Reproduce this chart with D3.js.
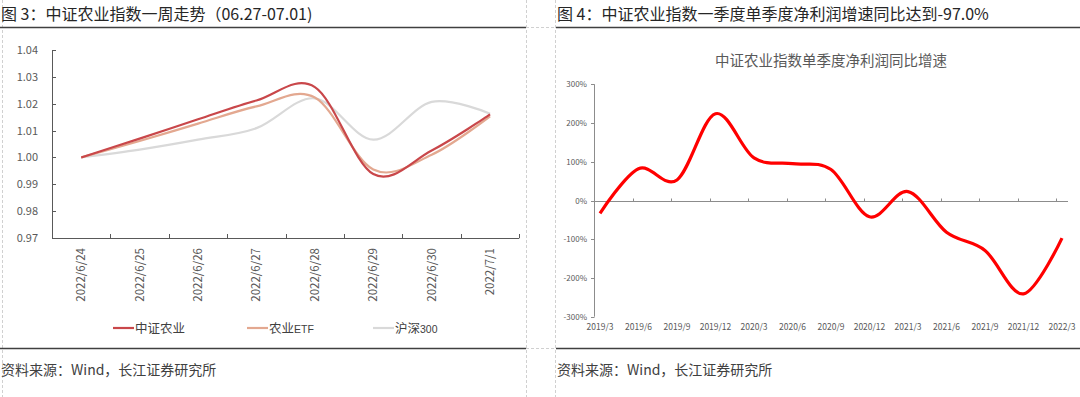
<!DOCTYPE html>
<html><head><meta charset="utf-8">
<script src="https://cdn.jsdelivr.net/npm/d3@7"></script>
<style>
html,body{margin:0;padding:0;background:#fff;}
svg{display:block;}
text{font-family:"Noto Sans CJK SC","Liberation Sans",sans-serif;}
</style></head>
<body>
<svg id="c" width="1080" height="397"></svg>
<script>
// ---------- data ----------
const leftCategories = ['2022/6/24','2022/6/25','2022/6/26','2022/6/27','2022/6/28','2022/6/29','2022/6/30','2022/7/1'];
const zzny  = [1.000, 1.0070, 1.0142, 1.0212, 1.0262, 0.9938, 1.0026, 1.0160];
const nyetf = [1.000, 1.0061, 1.0126, 1.0190, 1.0223, 0.9955, 1.0010, 1.0153];
const hs300 = [1.000, 1.0029, 1.0066, 1.0109, 1.0220, 1.0066, 1.0207, 1.0163];
const leftTicks = [0.97,0.98,0.99,1.00,1.01,1.02,1.03,1.04];
const leftSeriesNames = ['中证农业','农业ETF','沪深300'];

const quarters = ['2019/3','2019/6','2019/9','2019/12','2020/3','2020/6','2020/9','2020/12','2021/3','2021/6','2021/9','2021/12','2022/3'];
const growth = [-33, 82, 53, 224, 110, 95, 80, -42, 23, -82, -129, -241, -97];
const rightTicks = [-300,-200,-100,0,100,200,300];

const svg = d3.select('#c');
const latin = '"Liberation Sans", Arial, sans-serif';

// ---------- frame ----------
function dashV(x,y1,y2){svg.append('line').attr('x1',x).attr('x2',x).attr('y1',y1).attr('y2',y2)
  .attr('stroke','#d0d0d0').attr('stroke-dasharray','3,2').attr('stroke-width',1);}
function dashH(x1,x2,y){svg.append('line').attr('x1',x1).attr('x2',x2).attr('y1',y).attr('y2',y)
  .attr('stroke','#d0d0d0').attr('stroke-dasharray','3,2').attr('stroke-width',1);}
dashV(2.5,0,397); dashV(526.5,0,397); dashV(555.5,0,397);
dashH(526,556,27.5); dashH(526,556,348.5);
[[0,526],[556,1080]].forEach(([a,b])=>{
  svg.append('line').attr('x1',a).attr('x2',b).attr('y1',27.5).attr('y2',27.5).attr('stroke','#404040').attr('stroke-width',1.3);
  svg.append('line').attr('x1',a).attr('x2',b).attr('y1',348.5).attr('y2',348.5).attr('stroke','#404040').attr('stroke-width',1.3);
});
svg.append('text').attr('x',1).attr('y',20).attr('font-size',16).attr('fill','#262626')
  .text('图 3：中证农业指数一周走势（06.27-07.01)');
svg.append('text').attr('x',557).attr('y',20).attr('font-size',16).attr('fill','#262626')
  .text('图 4：中证农业指数一季度单季度净利润增速同比达到-97.0%');
svg.append('text').attr('x',1).attr('y',375).attr('font-size',14).attr('fill','#404040').text('资料来源：Wind，长江证券研究所');
svg.append('text').attr('x',557).attr('y',375).attr('font-size',14).attr('fill','#404040').text('资料来源：Wind，长江证券研究所');

// ---------- left chart ----------
const xL = d3.scaleBand().domain(leftCategories).range([52, 519.3]);
const yL = d3.scaleLinear().domain([0.97,1.04]).range([238,50]);
const gL = svg.append('g');
const axisColor = '#595959';
gL.append('line').attr('x1',52.5).attr('x2',52.5).attr('y1',yL(1.04)).attr('y2',yL(0.97)).attr('stroke',axisColor);
gL.append('line').attr('x1',52).attr('x2',xL.range()[1]).attr('y1',yL(0.97)+0.5).attr('y2',yL(0.97)+0.5).attr('stroke',axisColor);
leftTicks.forEach(t=>{
  gL.append('line').attr('x1',52).attr('x2',56).attr('y1',Math.round(yL(t))+0.5).attr('y2',Math.round(yL(t))+0.5).attr('stroke',axisColor);
  gL.append('text').attr('x',38).attr('y',yL(t)+4).attr('text-anchor','end').attr('font-size',11)
    .attr('font-family',latin).attr('fill','#595959').text(d3.format('.2f')(t));
});
leftCategories.forEach(c=>{
  const xe = xL(c)+xL.bandwidth();
  gL.append('line').attr('x1',Math.round(xe)+0.5).attr('x2',Math.round(xe)+0.5).attr('y1',yL(0.97)-4).attr('y2',yL(0.97)).attr('stroke',axisColor);
  const xc = xL(c)+xL.bandwidth()/2;
  gL.append('text').attr('transform',`translate(${xc+4},${yL(0.97)+10}) rotate(-90)`)
    .attr('text-anchor','end').attr('font-size',11.5).attr('font-family',latin).attr('fill','#595959').text(c);
});
const lineL = d3.line().x((d,i)=>xL(leftCategories[i])+xL.bandwidth()/2).y(d=>yL(d)).curve(d3.curveCardinal.tension(0));
const leftSeries = [hs300, nyetf, zzny];
const leftColors = ['#d9d9d9','#e3a890','#c9474a'];
leftSeries.forEach((s,i)=>{
  gL.append('path').attr('d',lineL(s)).attr('fill','none').attr('stroke',leftColors[i]).attr('stroke-width',2.2);
});
// legend
const legColors = ['#c9474a','#e3a890','#d9d9d9'];
const legX = [113, 247, 373];
leftSeriesNames.forEach((n,i)=>{
  gL.append('line').attr('x1',legX[i]).attr('x2',legX[i]+21).attr('y1',328).attr('y2',328).attr('stroke',legColors[i]).attr('stroke-width',2.2);
  const t = gL.append('text').attr('x',legX[i]+22).attr('y',332.5).attr('font-size',12.5).attr('fill','#404040');
  const m = n.match(/^([^A-Za-z0-9]+)(.*)$/);
  t.append('tspan').text(m[1]);
  if(m[2]) t.append('tspan').attr('font-size',10.5).attr('font-family',latin).text(m[2]);
});

// ---------- right chart ----------
const xR = d3.scalePoint().domain(quarters).range([600, 1062]);
const yR = d3.scaleLinear().domain([-300,300]).range([316.7,84.3]);
const gR = svg.append('g');
const rAxis = '#8c8c8c';
gR.append('text').attr('x',831).attr('y',66).attr('text-anchor','middle').attr('font-size',14.5)
  .attr('fill','#595959').text('中证农业指数单季度净利润同比增速');
gR.append('line').attr('x1',594.5).attr('x2',594.5).attr('y1',yR(300)).attr('y2',yR(-300)).attr('stroke',rAxis);
rightTicks.forEach(t=>{
  gR.append('line').attr('x1',591).attr('x2',594.5).attr('y1',Math.round(yR(t))+0.5).attr('y2',Math.round(yR(t))+0.5).attr('stroke',rAxis);
  gR.append('text').attr('x',587).attr('y',yR(t)+3).attr('text-anchor','end').attr('font-size',8)
    .attr('font-family',latin).attr('fill','#595959').text(t+'%');
});
const y0 = Math.round(yR(0))+0.5;
gR.append('line').attr('x1',594.5).attr('x2',xR(quarters[quarters.length-1])+6).attr('y1',y0).attr('y2',y0).attr('stroke',rAxis);
quarters.forEach((q,i)=>{
  if(i>0) gR.append('line').attr('x1',Math.round(xR(q)-6)+0.5).attr('x2',Math.round(xR(q)-6)+0.5).attr('y1',y0-3).attr('y2',y0).attr('stroke',rAxis);
  gR.append('text').attr('x',xR(q)).attr('y',330).attr('text-anchor','middle').attr('font-size',8.5)
    .attr('font-family',latin).attr('fill','#595959').text(q);
});
const lineR = d3.line().x((d,i)=>xR(quarters[i])).y(d=>yR(d)).curve(d3.curveCardinal.tension(0));
gR.append('path').attr('d',lineR(growth)).attr('fill','none').attr('stroke','#ff0000').attr('stroke-width',3.2);
</script>
</body></html>
